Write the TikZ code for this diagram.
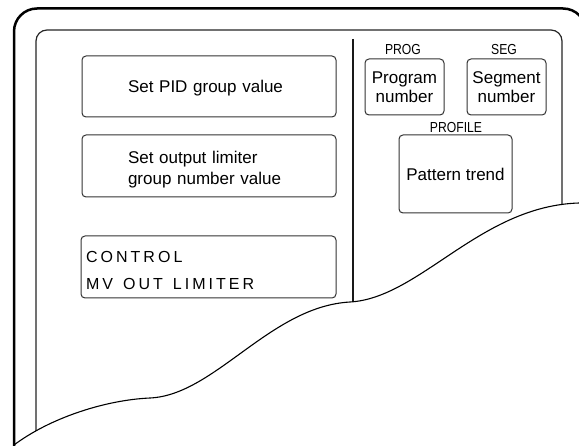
\documentclass[tikz,border=0pt]{standalone}
\usepackage{fontspec}
\setmainfont{Liberation Sans}
\newfontfamily\narrowfont[FakeStretch=0.84]{Liberation Sans}
\newfontfamily\spacedfont[LetterSpace=19]{Liberation Sans}
\begin{document}
\begin{tikzpicture}[x=1pt,y=-1pt,
  outerframe/.style={line width=2.5pt,black},
  innerframe/.style={line width=1.2pt,black!85},
  sepline/.style={line width=1.6pt,black!90},
  waveline/.style={line width=1.1pt,black},
  panelbox/.style={draw=black!80,line width=1pt,rounded corners=4pt,inner sep=0pt,
    font=\fontsize{17}{20.5}\selectfont},
  leftbox/.style={panelbox,minimum width=254pt,align=left,inner xsep=46pt,text width=162pt},
  keybox/.style={panelbox,align=center,minimum width=79pt,minimum height=56pt,
    font=\fontsize{17}{19.3}\selectfont},
  keylabel/.style={inner sep=0pt,text depth=0pt,font=\narrowfont\fontsize{14.5}{16}\selectfont}]
\clip (0,0) rectangle (579,446);
\fill[white] (0,0) rectangle (579,446);
% outer frame
\draw[outerframe,rounded corners=23pt] (14,446) -- (14,8.5) -- (586,8.5) -- (586,446);
% inner frame and separator, cut by the wave
\begin{scope}
  \clip (-5,-5) -- (-5,446) -- (14,446) -- (14,445)
    .. controls (50,418) and (105,400) .. (150,398)
    .. controls (215,395) and (270,306.5) .. (350,302)
    .. controls (420,298) and (480,206) .. (579,203) -- (600,202) -- (600,-5) -- cycle;
  \draw[innerframe,rounded corners=11pt] (36,446) -- (36,30) -- (562,30) -- (562,446);
  \coordinate (septop) at (353,39);
  \coordinate (sepbot) at (353,446);
  \draw[sepline] (septop) -- (sepbot);
\end{scope}
% wave
\draw[waveline] (14,445)
    .. controls (50,418) and (105,400) .. (150,398)
    .. controls (215,395) and (270,306.5) .. (350,302)
    .. controls (420,298) and (480,206) .. (579,203) -- (590,202.5);
% left boxes
\node[leftbox,minimum height=61pt,text depth=0pt] (pid) at (209,86.5) {Set PID group value};
\node[leftbox,minimum height=62pt] (lim) at (209,166) {\rule{0pt}{20pt}Set output limiter\\group number value};
\node[panelbox,minimum width=255pt,minimum height=62pt,align=left,inner xsep=5pt,text width=245pt,
  font=\spacedfont\fontsize{16}{27}\selectfont] (ctl) at (208.5,267)
  {\rule{0pt}{19pt}CONTROL\\MV\hspace{10pt}OUT\hspace{10pt}LIMITER};
% right keys
\node[keybox] (prg) at (404.5,87) {Program\\number};
\node[keybox] (sgm) at (506.5,87) {Segment\\number};
\node[panelbox,minimum width=113pt,minimum height=78pt,text depth=0pt] (pat) at (455.5,174) {Pattern trend};
\node[keylabel] (prglbl) at (403,49) {PROG};
\node[keylabel] (sgmlbl) at (504,49) {SEG};
\node[keylabel] (patlbl) at (456,127) {PROFILE};
\end{tikzpicture}
\end{document}
